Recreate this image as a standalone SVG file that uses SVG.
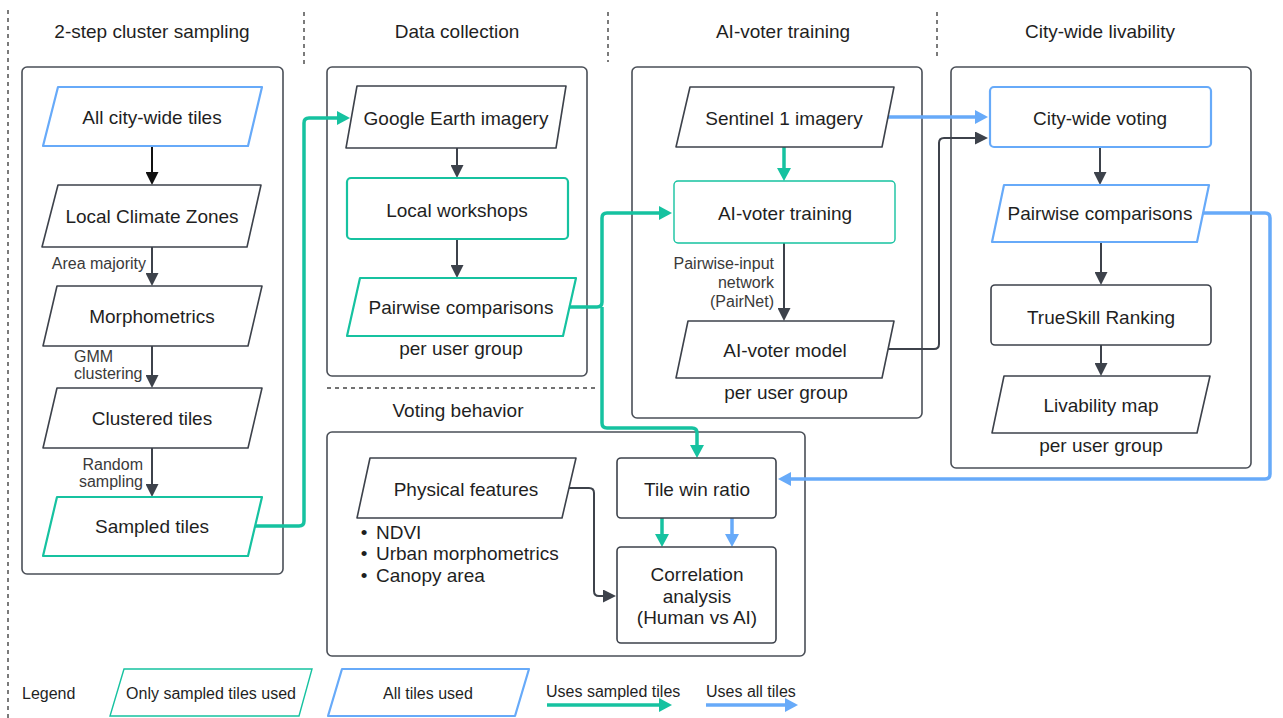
<svg xmlns="http://www.w3.org/2000/svg" width="1283" height="718" viewBox="0 0 1283 718">
<style>
text{font-family:"Liberation Sans",Arial,sans-serif;fill:#1f1f1f}
.title{font-size:19px;text-anchor:middle;dominant-baseline:central}
.n{font-size:19px;text-anchor:middle;dominant-baseline:central}
.lbl{font-size:16px;fill:#3a3a3a;dominant-baseline:central}
.le{text-anchor:end}
.box{fill:none;stroke:#4a4f57;stroke-width:1.6}
.dk{fill:#fff;stroke:#3d424b;stroke-width:1.6;stroke-linejoin:round}
.gn{fill:#fff;stroke:#16c2a0;stroke-width:2.2;stroke-linejoin:round}
.gnt{fill:#fff;stroke:#16c2a0;stroke-width:1.4}
.bl{fill:#fff;stroke:#67aaf9;stroke-width:2.2;stroke-linejoin:round}
.sep{stroke:#444;stroke-width:1.4;stroke-dasharray:4 4;fill:none}
.cg{fill:none;stroke:#16c2a0;stroke-width:3.5}
.cb{fill:none;stroke:#67aaf9;stroke-width:3.5}
.cd{fill:none;stroke:#3d424b;stroke-width:2}
.ck{fill:none;stroke:#111;stroke-width:2}
.lg{font-size:16px;dominant-baseline:central}
</style>
<defs>
<marker id="ag" markerUnits="userSpaceOnUse" markerWidth="14" markerHeight="14" refX="4" refY="7" orient="auto"><path d="M0,0 L13,7 L0,14 z" fill="#16c2a0"/></marker>
<marker id="ab" markerUnits="userSpaceOnUse" markerWidth="14" markerHeight="14" refX="4" refY="7" orient="auto"><path d="M0,0 L13,7 L0,14 z" fill="#67aaf9"/></marker>
<marker id="ad" markerUnits="userSpaceOnUse" markerWidth="13" markerHeight="13" refX="3" refY="6.5" orient="auto"><path d="M0,0 L13,6.5 L0,13 z" fill="#3d424b"/></marker>
<marker id="ak" markerUnits="userSpaceOnUse" markerWidth="13" markerHeight="13" refX="3" refY="6.5" orient="auto"><path d="M0,0 L13,6.5 L0,13 z" fill="#111"/></marker>
</defs>

<g id="separators">
<line class="sep" x1="8" y1="10" x2="8" y2="718"/>
<line class="sep" x1="304" y1="12" x2="304" y2="65"/>
<line class="sep" x1="608" y1="12" x2="608" y2="62"/>
<line class="sep" x1="937" y1="12" x2="937" y2="60"/>
<line class="sep" x1="327" y1="388" x2="597" y2="388"/>
</g>

<g id="titles">
<text class="title" x="152" y="31">2-step cluster sampling</text>
<text class="title" x="457" y="31">Data collection</text>
<text class="title" x="783" y="31">AI-voter training</text>
<text class="title" x="1100" y="31">City-wide livability</text>
<text class="title" x="458" y="410">Voting behavior</text>
</g>

<g id="containers">
<rect class="box" x="22" y="67" width="261" height="507" rx="5"/>
<rect class="box" x="327" y="67" width="260" height="309" rx="5"/>
<rect class="box" x="632" y="67" width="290" height="351" rx="5"/>
<rect class="box" x="951" y="67" width="300" height="401" rx="5"/>
<rect class="box" x="327" y="432" width="478" height="224" rx="5"/>
</g>

<g id="connectors">
<path class="ck" d="M152,147 V175" marker-end="url(#ak)"/>
<path class="cd" d="M152,247 V276" marker-end="url(#ad)"/>
<path class="cd" d="M152,346 V378" marker-end="url(#ad)"/>
<path class="cd" d="M152,448 V487" marker-end="url(#ad)"/>
<path class="cg" d="M254,526 H299 Q304,526 304,521 V123 Q304,118 309,118 H341" marker-end="url(#ag)"/>
<path class="cd" d="M457,148 V168" marker-end="url(#ad)"/>
<path class="cd" d="M457,239 V268" marker-end="url(#ad)"/>
<path class="cg" d="M569,307 H597 Q602,307 602,302 V218 Q602,213 607,213 H663" marker-end="url(#ag)"/>
<path class="cg" d="M602,307 V423 Q602,428 607,428 H692 Q697,428 697,433 V449" marker-end="url(#ag)"/>
<path class="cg" d="M784,147 V172" marker-end="url(#ag)"/>
<path class="cd" d="M784,243 V311" marker-end="url(#ad)"/>
<path class="cb" d="M888,117 H979" marker-end="url(#ab)"/>
<path class="cd" d="M886,349 H934 Q939,349 939,344 V143 Q939,138 944,138 H978" marker-end="url(#ad)"/>
<path class="cd" d="M1100,147 V175" marker-end="url(#ad)"/>
<path class="cd" d="M1101,242 V275" marker-end="url(#ad)"/>
<path class="cd" d="M1101,345 V366" marker-end="url(#ad)"/>
<path class="cb" d="M1203,213 H1265 Q1270,213 1270,218 V474 Q1270,479 1265,479 H787" marker-end="url(#ab)"/>
<path class="cd" d="M569,488 H589 Q594,488 594,493 V591 Q594,596 599,596 H606" marker-end="url(#ad)"/>
<path class="cg" d="M662,518 V538" marker-end="url(#ag)"/>
<path class="cb" d="M732,518 V538" marker-end="url(#ab)"/>
</g>

<g id="edge-labels">
<text class="lbl le" x="146" y="263">Area majority</text>
<text class="lbl" x="74" y="356">GMM</text>
<text class="lbl" x="74" y="373">clustering</text>
<text class="lbl le" x="143" y="464">Random</text>
<text class="lbl le" x="143" y="481">sampling</text>
<text class="lbl le" x="774" y="263">Pairwise-input</text>
<text class="lbl le" x="774" y="282">network</text>
<text class="lbl le" x="774" y="301">(PairNet)</text>
</g>

<g id="n-all-tiles"><polygon class="bl" points="58,87 262,87 248,146 43,146"/><text class="n" x="152" y="117">All city-wide tiles</text></g>
<g id="n-lcz"><polygon class="dk" points="58,185 261,185 247,247 42,247"/><text class="n" x="152" y="216">Local Climate Zones</text></g>
<g id="n-morph"><polygon class="dk" points="57,286 262,286 248,346 43,346"/><text class="n" x="152" y="316">Morphometrics</text></g>
<g id="n-clustered"><polygon class="dk" points="57,388 262,388 248,448 43,448"/><text class="n" x="152" y="418">Clustered tiles</text></g>
<g id="n-sampled"><polygon class="gn" points="57,497 262,497 248,556 43,556"/><text class="n" x="152" y="526">Sampled tiles</text></g>

<g id="n-google"><polygon class="dk" points="357,86 566,86 556,148 346,148"/><text class="n" x="456" y="118">Google Earth imagery</text></g>
<g id="n-workshops"><rect class="gn" x="347" y="178" width="221" height="61" rx="4"/><text class="n" x="457" y="210">Local workshops</text></g>
<g id="n-pairwise1"><polygon class="gn" points="360,278 576,278 563,336 347,336"/><text class="n" x="461" y="307">Pairwise comparisons</text><text class="n" x="461" y="348">per user group</text></g>

<g id="n-sentinel"><polygon class="dk" points="690,87 894,87 882,147 676,147"/><text class="n" x="784" y="118">Sentinel 1 imagery</text></g>
<g id="n-aitrain"><rect class="gnt" x="674" y="181" width="221" height="62" rx="4"/><text class="n" x="785" y="213">AI-voter training</text></g>
<g id="n-aimodel"><polygon class="dk" points="688,321 894,321 882,378 676,378"/><text class="n" x="785" y="350">AI-voter model</text><text class="n" x="786" y="392">per user group</text></g>

<g id="n-cityvoting"><rect class="bl" x="990" y="87" width="221" height="60" rx="4"/><text class="n" x="1100" y="118">City-wide voting</text></g>
<g id="n-pairwise2"><polygon class="bl" points="1004,185 1209,185 1197,242 992,242"/><text class="n" x="1100" y="213">Pairwise comparisons</text></g>
<g id="n-trueskill"><rect class="dk" x="991" y="285" width="220" height="60" rx="4"/><text class="n" x="1101" y="317">TrueSkill Ranking</text></g>
<g id="n-livability"><polygon class="dk" points="1004,376 1210,376 1197,433 992,433"/><text class="n" x="1101" y="405">Livability map</text><text class="n" x="1101" y="445">per user group</text></g>

<g id="n-physical"><polygon class="dk" points="370,458 576,458 562,518 357,518"/><text class="n" x="466" y="489">Physical features</text>
<text class="n" x="364" y="532">•</text><text class="n" x="376" y="532" style="text-anchor:start">NDVI</text>
<text class="n" x="364" y="553">•</text><text class="n" x="376" y="553" style="text-anchor:start">Urban morphometrics</text>
<text class="n" x="364" y="575">•</text><text class="n" x="376" y="575" style="text-anchor:start">Canopy area</text></g>
<g id="n-winratio"><rect class="dk" x="617" y="458" width="159" height="60" rx="4"/><text class="n" x="697" y="489">Tile win ratio</text></g>
<g id="n-correlation"><rect class="dk" x="617" y="547" width="159" height="96" rx="4"/><text class="n" x="697" y="574">Correlation</text><text class="n" x="697" y="596">analysis</text><text class="n" x="697" y="617">(Human vs AI)</text></g>

<g id="legend">
<text class="lg" x="22" y="693">Legend</text>
<polygon class="gnt" points="124,669 312,669 299,716 110,716"/>
<text class="lg" x="211" y="693" text-anchor="middle">Only sampled tiles used</text>
<polygon class="bl" points="342,669 529,669 515,716 328,716"/>
<text class="lg" x="428" y="693" text-anchor="middle">All tiles used</text>
<text class="lg" x="546" y="691">Uses sampled tiles</text>
<path class="cg" d="M547,705 H663" marker-end="url(#ag)"/>
<text class="lg" x="706" y="691">Uses all tiles</text>
<path class="cb" d="M706,705 H789" marker-end="url(#ab)"/>
</g>
</svg>
